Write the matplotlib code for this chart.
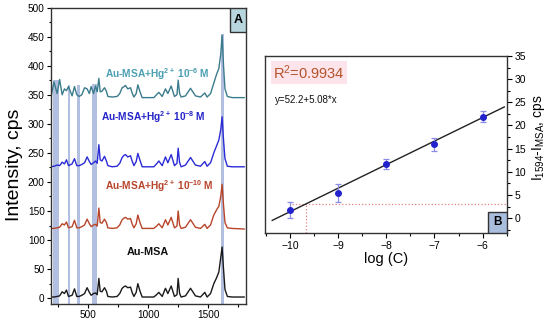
import matplotlib.pyplot as plt
from matplotlib.patches import Rectangle
from matplotlib.ticker import MultipleLocator

plt.rcParams['font.family'] = ['Liberation Sans', 'DejaVu Sans']
plt.rcParams['mathtext.fontset'] = 'custom'
plt.rcParams['mathtext.rm'] = 'Liberation Sans'
plt.rcParams['mathtext.it'] = 'Liberation Sans:italic'
plt.rcParams['mathtext.bf'] = 'Liberation Sans:bold'

# ---- panel A: stacked Raman spectra ----
wn = [190, 215, 241, 262, 283, 302, 319, 336, 366, 386,
      405, 425, 447, 470, 491, 510, 525, 545, 561, 575,
      589, 600, 615, 636, 652, 664, 700, 741, 763, 783,
      800, 811, 830, 853, 866, 881, 900, 914, 932, 950,
      1000, 1047, 1070, 1089, 1117, 1144, 1164, 1192, 1219, 1240,
      1250, 1262, 1275, 1311, 1353, 1394, 1436, 1472, 1491, 1520,
      1547, 1570, 1589, 1605, 1616, 1628, 1640, 1660, 1700, 1800]

au_msa = [2, 2, 3, 4, 11, 8, 14, 3, 5, 16,
          3, 3, 5, 8, 18, 10, 5, 8, 9, 6,
          34, 12, 11, 18, 12, 3, 2, 3, 8, 17,
          20, 21, 18, 19, 10, 3, 10, 25, 12, 2,
          2, 2, 6, 10, 3, 17, 8, 21, 3, 6,
          34, 8, 2, 4, 17, 4, 2, 10, 2, 8,
          25, 35, 45, 70, 88, 50, 15, 3, 2, 2]

hg_1e10 = [120, 120, 121, 122, 128, 126, 131, 121, 123, 134,
           121, 121, 123, 126, 136, 128, 123, 126, 127, 124,
           155, 130, 129, 136, 130, 121, 120, 121, 126, 135,
           138, 139, 136, 137, 128, 121, 128, 143, 130, 120,
           120, 120, 124, 128, 121, 135, 126, 139, 121, 124,
           150, 126, 120, 122, 135, 122, 120, 127, 120, 126,
           143, 152, 158, 175, 196, 160, 130, 121, 120, 119]

hg_1e8 = [226, 227, 229, 228, 234, 231, 238, 228, 231, 240,
          228, 228, 230, 233, 243, 235, 230, 233, 236, 232,
          264, 238, 236, 244, 236, 228, 226, 227, 232, 242,
          246, 247, 243, 245, 236, 228, 235, 249, 237, 226,
          226, 226, 231, 236, 228, 243, 233, 247, 228, 232,
          258, 233, 226, 229, 242, 229, 227, 235, 227, 233,
          250, 262, 272, 290, 312, 272, 240, 227, 226, 226]

hg_1e6 = [346, 372, 352, 376, 350, 360, 357, 364, 348, 364,
          350, 347, 350, 362, 360, 352, 364, 352, 365, 355,
          378, 355, 356, 362, 356, 347, 346, 347, 352, 362,
          364, 366, 360, 362, 353, 346, 352, 367, 355, 345,
          345, 345, 350, 354, 347, 360, 352, 365, 347, 350,
          375, 352, 346, 348, 361, 348, 346, 353, 346, 352,
          370, 385, 395, 420, 452, 400, 360, 347, 345, 345]

band_lo = [210, 330, 408, 533, 1603]
band_hi = [255, 352, 430, 575, 1630]
band_top = [375, 367, 366, 368, 455]

# ---- panel B: calibration ----
logc = [-10, -9, -8, -7, -6]
dI = [1.7, 5.4, 11.7, 15.9, 21.9]
dI_err = [1.7, 2.0, 1.05, 1.3, 1.15]
fit_a, fit_b = 52.2, 5.08
fit_x = [-10.37, -5.55]
lod_x, lod_y = -9.67, 3.1

fig = plt.figure(figsize=(5.5, 3.22), dpi=100)

ax1 = fig.add_axes([0.0927, 0.0559, 0.3545, 0.9208])
for lo, hi, top in zip(band_lo, band_hi, band_top):
    ax1.fill_between([lo, hi], -10, top, color='#b3bfe0', lw=0, zorder=1)
ax1.plot(wn, au_msa, color='#1a1a1a', lw=1, zorder=2)
ax1.plot(wn, hg_1e10, color='#b8452a', lw=1, zorder=2)
ax1.plot(wn, hg_1e8, color='#2b2bd6', lw=1, zorder=2)
ax1.plot(wn, hg_1e6, color='#3b7c8c', lw=1, zorder=2)

ax1.text(1078, 385, 'Au-MSA+Hg$^{\\mathbf{2+}}$ 10$^{\\mathbf{-6}}$ M', color='#4a9fb2',
         fontsize=7.3, fontweight='bold', ha='center', va='center')
ax1.text(1044, 312, 'Au-MSA+Hg$^{\\mathbf{2+}}$ 10$^{\\mathbf{-8}}$ M', color='#2424c8',
         fontsize=7.3, fontweight='bold', ha='center', va='center')
ax1.text(1094, 192, 'Au-MSA+Hg$^{\\mathbf{2+}}$ 10$^{\\mathbf{-10}}$ M', color='#b8452a',
         fontsize=7.3, fontweight='bold', ha='center', va='center')
ax1.text(994, 80, 'Au-MSA', color='#111111', fontsize=7.8, fontweight='bold',
         ha='center', va='center')

ax1.set_xlim(190, 1815)
ax1.set_ylim(-10, 500)
ax1.xaxis.set_major_locator(MultipleLocator(500))
ax1.xaxis.set_minor_locator(MultipleLocator(250))
ax1.yaxis.set_major_locator(MultipleLocator(50))
ax1.yaxis.set_minor_locator(MultipleLocator(25))
ax1.tick_params(which='both', direction='out', labelsize=7.2, width=0.8, pad=1.5)
ax1.tick_params(which='major', length=3)
ax1.tick_params(which='minor', length=1.8)
ax1.set_ylabel('Intensity, cps', fontsize=14)
ax1.yaxis.set_label_coords(-0.142, 0.469)
for s in ax1.spines.values():
    s.set_linewidth(1.0)
    s.set_color('#333333')
ax1.add_patch(Rectangle((0.918, 0.918), 0.082, 0.082, transform=ax1.transAxes,
                        facecolor='#b7d6de', edgecolor='#333333', lw=1, zorder=5))
ax1.text(0.959, 0.959, 'A', transform=ax1.transAxes, fontsize=9, fontweight='bold',
         ha='center', va='center', zorder=6)

ax2 = fig.add_axes([0.4818, 0.2764, 0.4395, 0.5497])
ax2.plot(fit_x, [fit_a + fit_b * x for x in fit_x], color='#222222', lw=1, zorder=3)
ax2.plot([lod_x, lod_x], [-3.2, lod_y], color='#e58080', lw=0.9, ls=':', zorder=2)
ax2.plot([-9.95, -5.5], [lod_y, lod_y], color='#e58080', lw=0.9, ls=':', zorder=2)
ax2.errorbar(logc, dI, yerr=dI_err, fmt='o', color='#2222cc', ms=4,
             ecolor='#8c8ce6', elinewidth=0.9, capsize=2, capthick=0.9, zorder=4)

ax2.set_xlim(-10.52, -5.5)
ax2.set_ylim(-3.2, 35)
ax2.xaxis.set_major_locator(MultipleLocator(1))
ax2.xaxis.set_minor_locator(MultipleLocator(0.5))
ax2.yaxis.set_major_locator(MultipleLocator(5))
ax2.yaxis.set_minor_locator(MultipleLocator(2.5))
ax2.yaxis.tick_right()
ax2.yaxis.set_label_position('right')
ax2.tick_params(which='both', direction='out', labelsize=7.5, width=0.8, pad=2)
ax2.tick_params(which='major', length=3.5)
ax2.tick_params(which='minor', length=2)
ax2.set_xlabel('log (C)', fontsize=10.5, labelpad=1)
ax2.set_ylabel('I$_{\\mathrm{1594}}$-I$_{\\mathrm{MSA}}$, cps', fontsize=10)
ax2.yaxis.set_label_coords(1.095, 0.537)
for s in ax2.spines.values():
    s.set_linewidth(1.0)
    s.set_color('#333333')

ax2.text(0.035, 0.905, 'R$^{2}$=0.9934', transform=ax2.transAxes, fontsize=10.5,
         color='#b5532a', ha='left', va='center',
         bbox=dict(facecolor='#fde3ea', edgecolor='none', pad=1.5))
ax2.text(0.04, 0.75, 'y=52.2+5.08*x', transform=ax2.transAxes, fontsize=7,
         color='#111111', ha='left', va='center')
ax2.add_patch(Rectangle((0.923, 0.0), 0.077, 0.12, transform=ax2.transAxes,
                        facecolor='#a9bedc', edgecolor='#333333', lw=1, zorder=5))
ax2.text(0.9615, 0.06, 'B', transform=ax2.transAxes, fontsize=8.5, fontweight='bold',
         ha='center', va='center', zorder=6)

fig.savefig('out.png', dpi=100)
